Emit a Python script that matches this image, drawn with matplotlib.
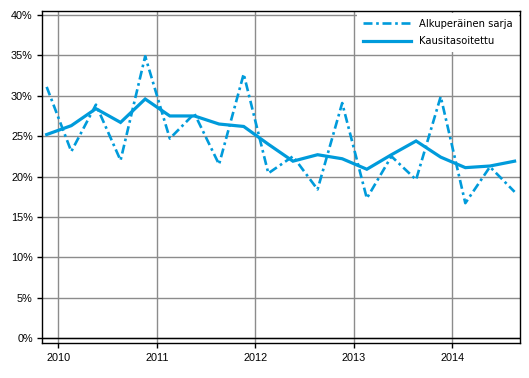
import matplotlib
matplotlib.use("Agg")
import matplotlib.pyplot as plt
from matplotlib.ticker import FuncFormatter

years = ["2010", "2011", "2012", "2013", "2014"]
original = [31.1, 23.1, 28.9, 22.0, 34.9, 24.7, 27.8, 21.5, 32.7, 20.4,
            22.5, 18.4, 29.1, 17.3, 22.5, 19.6, 29.9, 16.7, 21.2, 18.1]
adjusted = [25.2, 26.3, 28.4, 26.7, 29.6, 27.5, 27.5, 26.5, 26.2, 24.0,
            21.9, 22.7, 22.2, 20.9, 22.7, 24.4, 22.4, 21.1, 21.3, 21.9]
labels = ["Alkuperäinen sarja", "Kausitasoitettu"]

blue = "#009BDB"
fig = plt.figure(figsize=(5.29, 3.78), dpi=100)
ax = fig.add_axes([41.5 / 529, 35 / 378, (520 - 41.5) / 529, (343 - 11) / 378])

x = list(range(len(original)))
ax.plot(x, original, color=blue, lw=1.9, dashes=(3.4, 1.4, 1.0, 1.4),
        label=labels[0], zorder=3)
ax.plot(x, adjusted, color=blue, lw=2.3, label=labels[1], zorder=4,
        solid_joinstyle="miter")

ax.set_xlim(-0.21, 19.22)
ax.set_ylim(-0.62, 40.5)
ax.set_yticks(range(0, 41, 5))
ax.yaxis.set_major_formatter(FuncFormatter(lambda v, p: f"{int(v)}%"))
ax.set_xticks([0.47 + 4 * i for i in range(len(years))])
ax.set_xticklabels(years)

ax.grid(True, color="#8c8c8c", lw=1.0, zorder=1)
ax.axhline(0, color="black", lw=1.0, zorder=2)
for s in ax.spines.values():
    s.set_color("black")
    s.set_linewidth(1.0)

ax.tick_params(axis="both", labelsize=7.8, color="black", length=3.8, width=1)
ax.tick_params(axis="x", pad=3.5)
ax.tick_params(axis="y", pad=2.5)
for t in ax.get_xticklabels() + ax.get_yticklabels():
    t.set_family("Liberation Sans")

leg = ax.legend(loc="upper right", frameon=True, fancybox=False,
                facecolor="white", edgecolor="none", framealpha=1,
                borderaxespad=0.15, handlelength=4.8, fontsize=7.2,
                labelspacing=0.75, handletextpad=0.8, borderpad=0.6)
leg.set_zorder(5)

fig.savefig("out.png", dpi=100)
